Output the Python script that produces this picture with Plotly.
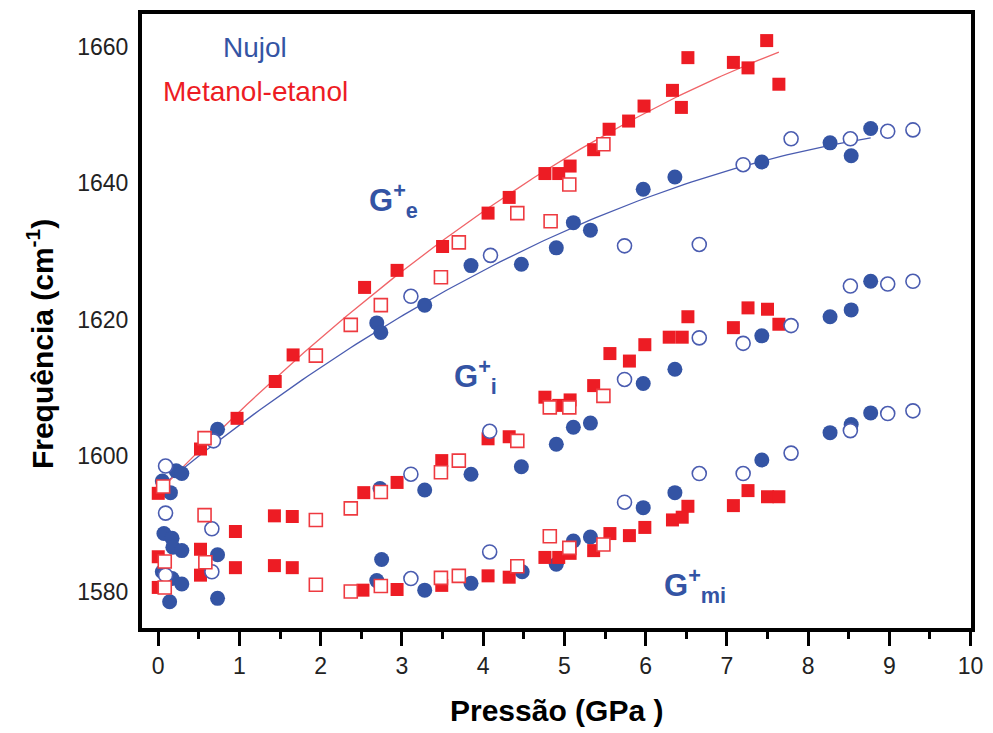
import numpy as np
import plotly.graph_objects as go

# ---- Nujol (blue circles), filled = compression, open = decompression ----
nujol_ge_p = [0.05, 0.15, 0.22, 0.29, 0.73, 2.69, 2.74, 3.28, 3.85, 4.47, 4.90, 5.11, 5.32, 5.97, 6.36, 7.43, 8.27, 8.53, 8.77]
nujol_ge_w = [1596.3, 1594.6, 1597.8, 1597.4, 1603.9, 1619.5, 1618.1, 1622.1, 1627.9, 1628.1, 1630.5, 1634.2, 1633.1, 1639.1, 1640.9, 1643.1, 1645.9, 1644.0, 1648.0]
nujol_gi_p = [0.07, 0.17, 0.18, 0.29, 2.73, 3.28, 3.85, 4.47, 4.90, 5.11, 5.32, 5.97, 6.36, 7.43, 8.27, 8.53, 8.77]
nujol_gi_w = [1588.6, 1587.9, 1586.6, 1586.1, 1595.2, 1595.0, 1597.3, 1598.4, 1601.7, 1604.2, 1604.8, 1610.6, 1612.7, 1617.6, 1620.4, 1621.4, 1625.6]
nujol_gmi_p = [0.05, 0.17, 0.29, 0.14, 0.73, 0.73, 2.69, 2.75, 3.28, 3.85, 4.48, 4.90, 5.11, 5.32, 5.97, 6.36, 7.43, 8.27, 8.53, 8.77]
nujol_gmi_w = [1583.0, 1582.0, 1581.2, 1578.6, 1585.5, 1579.1, 1581.7, 1584.8, 1580.3, 1581.3, 1583.0, 1584.1, 1587.5, 1588.1, 1592.4, 1594.6, 1599.4, 1603.4, 1604.6, 1606.3]

nujol_ge_p_open = [0.09, 0.68, 3.11, 4.09, 5.74, 6.66, 7.20, 7.79, 8.52, 8.98, 9.29]
nujol_ge_w_open = [1598.5, 1602.2, 1623.4, 1629.4, 1630.8, 1631.0, 1642.7, 1646.5, 1646.5, 1647.6, 1647.8]
nujol_gi_p_open = [0.09, 0.66, 3.11, 4.08, 5.74, 6.66, 7.20, 7.79, 8.52, 8.98, 9.29]
nujol_gi_w_open = [1591.6, 1589.3, 1597.3, 1603.6, 1611.2, 1617.3, 1616.5, 1619.1, 1624.9, 1625.2, 1625.6]
nujol_gmi_p_open = [0.09, 0.66, 3.11, 4.08, 5.74, 6.66, 7.20, 7.79, 8.52, 8.98, 9.29]
nujol_gmi_w_open = [1582.5, 1583.0, 1582.0, 1585.9, 1593.2, 1597.4, 1597.4, 1600.4, 1603.7, 1606.2, 1606.6]

# ---- Metanol-etanol (red squares) ----
me_ge_p = [0.00, 0.52, 0.97, 1.44, 1.66, 2.54, 2.94, 3.50, 4.06, 4.32, 4.76, 4.93, 5.07, 5.36, 5.55, 5.79, 5.98, 6.33, 6.44, 6.52, 7.08, 7.26, 7.49, 7.64]
me_ge_w = [1594.5, 1601.0, 1605.5, 1610.9, 1614.8, 1624.7, 1627.2, 1630.7, 1635.6, 1637.9, 1641.4, 1641.4, 1642.5, 1644.9, 1647.9, 1649.1, 1651.3, 1653.6, 1651.1, 1658.4, 1657.7, 1656.9, 1660.9, 1654.5]
me_gi_p = [0.00, 0.52, 0.95, 1.43, 1.65, 2.53, 2.94, 3.49, 4.06, 4.32, 4.76, 4.93, 5.07, 5.36, 5.56, 5.80, 5.99, 6.29, 6.45, 6.52, 7.08, 7.26, 7.50, 7.64]
me_gi_w = [1585.2, 1586.3, 1588.9, 1591.2, 1591.1, 1594.6, 1596.1, 1599.3, 1602.5, 1602.8, 1608.6, 1607.4, 1608.2, 1610.3, 1615.0, 1613.9, 1616.3, 1617.4, 1617.4, 1620.4, 1618.8, 1621.7, 1621.5, 1619.3]
me_gmi_p = [0.00, 0.52, 0.95, 1.43, 1.65, 2.52, 2.94, 3.49, 4.06, 4.32, 4.76, 4.93, 5.07, 5.36, 5.56, 5.80, 5.99, 6.33, 6.45, 6.52, 7.08, 7.26, 7.50, 7.64]
me_gmi_w = [1580.7, 1582.5, 1583.6, 1583.9, 1583.6, 1580.3, 1580.4, 1581.0, 1582.4, 1582.2, 1585.1, 1585.1, 1585.7, 1586.1, 1588.6, 1588.3, 1589.5, 1590.6, 1591.0, 1592.6, 1592.7, 1594.9, 1594.0, 1594.0]

me_ge_p_open = [0.06, 0.57, 1.94, 2.37, 2.74, 3.48, 3.70, 4.42, 4.83, 5.06, 5.48]
me_ge_w_open = [1595.5, 1602.6, 1614.7, 1619.2, 1622.1, 1626.2, 1631.3, 1635.6, 1634.4, 1639.8, 1645.7]
me_gi_p_open = [0.57, 1.94, 2.37, 2.74, 3.48, 3.70, 4.42, 4.82, 5.06, 5.48]
me_gi_w_open = [1591.3, 1590.6, 1592.3, 1594.7, 1597.6, 1599.3, 1602.2, 1607.1, 1607.1, 1608.8]
me_gmi_p_open = [0.08, 0.08, 0.58, 1.94, 2.37, 2.74, 3.48, 3.70, 4.42, 4.82, 5.06, 5.48]
me_gmi_w_open = [1584.5, 1580.7, 1584.4, 1581.1, 1580.1, 1580.9, 1582.1, 1582.4, 1583.8, 1588.2, 1586.5, 1587.0]

BLUE = "#3454a4"
BLUE_LINE = "#4a5cb0"
RED = "#ed1c24"
RED_LINE = "#f06468"
FONT = "Liberation Sans, Arial, sans-serif"

fig = go.Figure()

# quadratic fits of the G+e band (compression data)
for p, w, col in [(nujol_ge_p, nujol_ge_w, BLUE_LINE), (me_ge_p, me_ge_w, RED_LINE)]:
    coef = np.polyfit(p, w, 2)
    xs = np.linspace(0, max(p), 120)
    fig.add_trace(go.Scatter(x=xs, y=np.polyval(coef, xs), mode="lines",
                             line=dict(color=col, width=1.3), hoverinfo="skip"))

def closed(p, w, symbol, color, size):
    fig.add_trace(go.Scatter(x=p, y=w, mode="markers",
                             marker=dict(symbol=symbol, size=size, color=color,
                                         line=dict(width=0))))

def opened(p, w, symbol, color, size):
    fig.add_trace(go.Scatter(x=p, y=w, mode="markers",
                             marker=dict(symbol=symbol, size=size, color="white",
                                         line=dict(width=1.6, color=color))))

for p, w in [(nujol_ge_p, nujol_ge_w), (nujol_gi_p, nujol_gi_w), (nujol_gmi_p, nujol_gmi_w)]:
    closed(p, w, "circle", BLUE, 15)
for p, w in [(me_ge_p, me_ge_w), (me_gi_p, me_gi_w), (me_gmi_p, me_gmi_w)]:
    closed(p, w, "square", RED, 13)
for p, w in [(nujol_ge_p_open, nujol_ge_w_open), (nujol_gi_p_open, nujol_gi_w_open), (nujol_gmi_p_open, nujol_gmi_w_open)]:
    opened(p, w, "circle", BLUE_LINE, 14)
for p, w in [(me_ge_p_open, me_ge_w_open), (me_gi_p_open, me_gi_w_open), (me_gmi_p_open, me_gmi_w_open)]:
    opened(p, w, "square", "#ee3a40", 13)

# labels inside the plot
fig.add_annotation(x=1.19, y=1659.9, text="Nujol", showarrow=False,
                   font=dict(family=FONT, size=28, color=BLUE))
fig.add_annotation(x=1.20, y=1653.4, text="Metanol-etanol", showarrow=False,
                   font=dict(family=FONT, size=28, color=RED))
for x, y, sub in [(2.57, 1637.4, "e"), (3.62, 1611.6, "i"), (6.20, 1581.0, "mi")]:
    fig.add_annotation(x=x, y=y, xanchor="left", yanchor="middle", showarrow=False,
                       text=f"<b>G<sup>+</sup><sub>{sub}</sub></b>",
                       font=dict(family=FONT, size=31, color=BLUE))

# axis titles
fig.add_annotation(xref="paper", yref="paper", x=-0.1227, y=0.4628, textangle=-90,
                   xanchor="center", yanchor="middle", showarrow=False,
                   text="<b>Frequência (cm<sup>-1</sup>)</b>",
                   font=dict(family=FONT, size=30, color="black"))
fig.add_annotation(xref="paper", yref="paper", x=0.4994, y=-0.134,
                   xanchor="center", yanchor="middle", showarrow=False,
                   text="<b>Pressão (GPa )</b>",
                   font=dict(family=FONT, size=30, color="black"))

fig.update_layout(
    width=993, height=733,
    margin=dict(l=142, r=20, t=10, b=105),
    paper_bgcolor="white", plot_bgcolor="white",
    showlegend=False,
    font=dict(family=FONT, color="#222222"),
)
fig.update_xaxes(range=[-0.2, 10.005], showgrid=False, zeroline=False,
                 showline=True, mirror=True, linewidth=4, linecolor="black",
                 tick0=0, dtick=1, ticks="outside", ticklen=14, tickwidth=3,
                 tickcolor="black", tickfont=dict(family=FONT, size=23, color="#222222"),
                 minor=dict(dtick=0.5, tick0=0, ticks="outside", ticklen=7,
                            tickwidth=3, tickcolor="black"))
fig.update_yaxes(range=[1574.75, 1664.8], showgrid=False, zeroline=False,
                 showline=True, mirror=True, linewidth=4, linecolor="black",
                 tick0=1580, dtick=20, ticks="", ticklabelstandoff=5,
                 tickfont=dict(family=FONT, size=23, color="#222222"))

fig.write_html("out.html")
